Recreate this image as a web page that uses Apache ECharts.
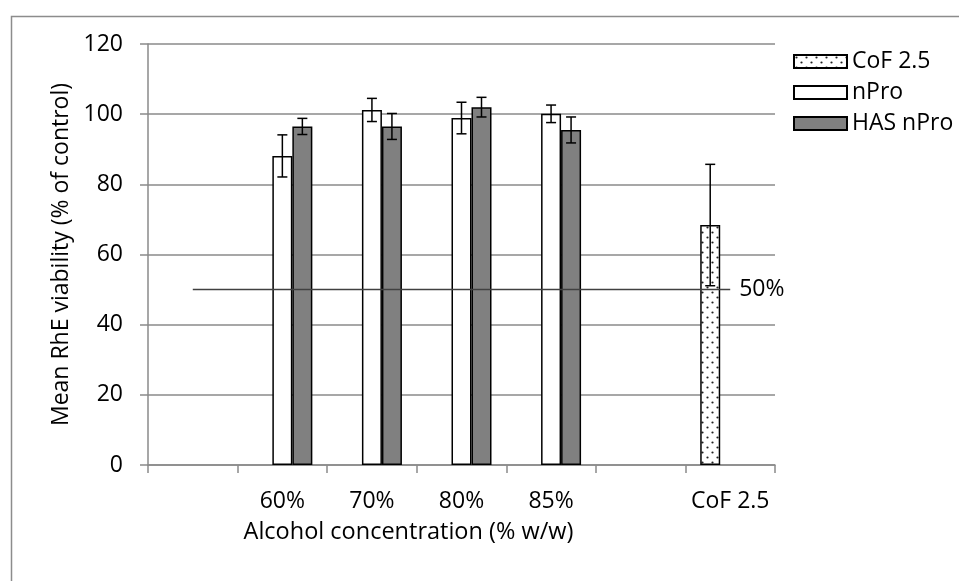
<!DOCTYPE html>
<html><head><meta charset="utf-8">
<script src="https://cdn.jsdelivr.net/npm/echarts@6/dist/echarts.min.js"></script>
<style>html,body{margin:0;padding:0;background:#fff}#c{width:959px;height:581px}</style>
</head><body><div id="c"></div>
<script>
// ---- data ----
const categories = ['', '60%', '70%', '80%', '85%', ' ', 'CoF 2.5'];
const seriesNames = ['CoF 2.5', 'nPro', 'HAS nPro'];
const cofValues  = [null, null, null, null, null, null, 68.4];
const cofErrors  = [null, null, null, null, null, null, 17.3];
const nProValues = [null, 88.1, 101.2, 98.9, 100.1, null, null];
const nProErrors = [null, 6.0, 3.3, 4.5, 2.5, null, null];
const hasValues  = [null, 96.5, 96.5, 102.0, 95.5, null, null];
const hasErrors  = [null, 2.3, 3.7, 2.8, 3.7, null, null];
const thresholdValues = [50, null, null, null, null, null, 50];
const thresholdLabel = '50%';
const yMin = 0, yMax = 120, yInterval = 20;

// ---- styles ----
const FONT = 'Open Sans';
const FS = 23;
const BAR_W = 20;
const CAP = 10;
const GRID_COLOR = '#8a8a8a';

function dotPattern() {
  const c = document.createElement('canvas');
  c.width = 10; c.height = 10;
  const g = c.getContext('2d');
  g.fillStyle = '#ffffff'; g.fillRect(0, 0, 10, 10);
  g.fillStyle = '#222222';
  g.beginPath(); g.arc(2.5, 2.5, 1.1, 0, Math.PI * 2); g.fill();
  g.beginPath(); g.arc(7.5, 7.5, 1.1, 0, Math.PI * 2); g.fill();
  return c;
}

function errSeries(name, vals, errs, k) {
  const data = [];
  vals.forEach((v, i) => { if (v != null) data.push([i, v, errs[i]]); });
  return {
    type: 'custom', name: name + ' error', z: 6, silent: true,
    data: data,
    encode: { x: 0, y: 1 },
    renderItem: function (params, api) {
      const i = api.value(0), v = api.value(1), e = api.value(2);
      const top = api.coord([i, v + e]);
      const bot = api.coord([i, v - e]);
      const x = top[0] + k * BAR_W;
      const hw = CAP / 2;
      const st = { stroke: '#000', lineWidth: 1.5 };
      return {
        type: 'group', children: [
          { type: 'line', shape: { x1: x, y1: top[1], x2: x, y2: bot[1] }, style: st },
          { type: 'line', shape: { x1: x - hw, y1: top[1], x2: x + hw, y2: top[1] }, style: st },
          { type: 'line', shape: { x1: x - hw, y1: bot[1], x2: x + hw, y2: bot[1] }, style: st }
        ]
      };
    }
  };
}

const barBase = { type: 'bar', barWidth: BAR_W, barGap: '0%', z: 3 };

const chart = echarts.init(document.getElementById('c'), null, { renderer: 'canvas' });
chart.setOption({
  animation: false,
  backgroundColor: '#ffffff',
  textStyle: { fontFamily: FONT },
  graphic: [{
    type: 'rect', left: 9, top: 14, silent: true,
    shape: { width: 1200, height: 900 },
    style: { fill: 'none', stroke: '#8c8c8c', lineWidth: 1.5 }
  }],
  grid: { left: 148, right: 184, top: 44, bottom: 116 },
  legend: {
    data: seriesNames,
    orient: 'vertical',
    left: 788, top: 45,
    itemWidth: 53, itemHeight: 13, itemGap: 8, itemTextGap: 6,
    icon: 'rect',
    textStyle: { fontFamily: FONT, fontSize: FS, color: '#000', lineHeight: 23 }
  },
  xAxis: {
    type: 'category', data: categories,
    axisLine: { lineStyle: { color: GRID_COLOR, width: 1.5 } },
    axisTick: { show: true, length: 8, lineStyle: { color: GRID_COLOR, width: 1.5 } },
    axisLabel: { interval: 0, margin: 25, fontFamily: FONT, fontSize: FS, color: '#000' },
    name: 'Alcohol concentration (% w/w)',
    nameLocation: 'middle', nameGap: 55,
    nameTextStyle: { fontFamily: FONT, fontSize: 23.5, color: '#000', padding: [0, 106, 0, 0] }
  },
  yAxis: {
    type: 'value', min: yMin, max: yMax, interval: yInterval,
    axisLine: { show: true, lineStyle: { color: GRID_COLOR, width: 1.5 } },
    axisTick: { show: true, length: 8, lineStyle: { color: GRID_COLOR, width: 1.5 } },
    splitLine: { show: true, lineStyle: { color: GRID_COLOR, width: 1.5 } },
    axisLabel: { margin: 25, fontFamily: FONT, fontSize: FS, color: '#000' },
    name: 'Mean RhE viability (% of control)',
    nameLocation: 'middle', nameGap: 74,
    nameTextStyle: { fontFamily: FONT, fontSize: FS, color: '#000' }
  },
  series: [
    Object.assign({}, barBase, {
      name: seriesNames[0], data: cofValues,
      itemStyle: { color: { image: dotPattern(), repeat: 'repeat' }, borderColor: '#000', borderWidth: 1.5 }
    }),
    Object.assign({}, barBase, {
      name: seriesNames[1], data: nProValues,
      itemStyle: { color: '#ffffff', borderColor: '#000', borderWidth: 1.5 }
    }),
    Object.assign({}, barBase, {
      name: seriesNames[2], data: hasValues,
      itemStyle: { color: '#808080', borderColor: '#000', borderWidth: 1.5 }
    }),
    {
      type: 'line', name: 'threshold', data: thresholdValues, connectNulls: true,
      symbol: 'none', z: 5, silent: true,
      lineStyle: { color: '#404040', width: 1.5 },
      endLabel: { show: true, formatter: thresholdLabel, fontFamily: FONT, fontSize: FS, color: '#000', distance: 9 }
    },
    errSeries('CoF 2.5', cofValues, cofErrors, -1),
    errSeries('nPro', nProValues, nProErrors, 0),
    errSeries('HAS nPro', hasValues, hasErrors, 1)
  ]
});
</script>
</body></html>
